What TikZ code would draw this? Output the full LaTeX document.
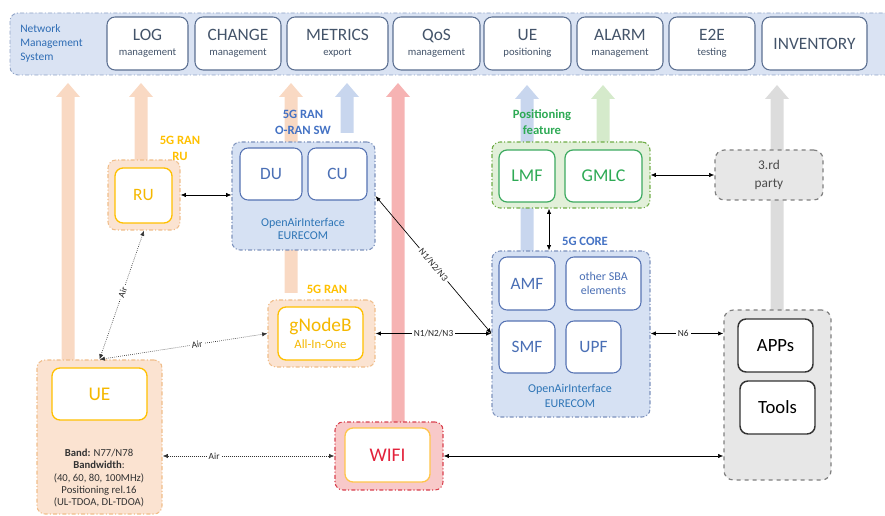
\documentclass[tikz,border=0pt]{standalone}
\usepackage{fontspec}
\setmainfont{Carlito}
\usetikzlibrary{arrows.meta,calc}
\definecolor{barfill}{HTML}{DAE3F3}
\definecolor{barline}{HTML}{8EA2C6}
\definecolor{slate}{HTML}{44546A}
\definecolor{topline}{HTML}{5B6F91}
\definecolor{nmsblue}{HTML}{2F6DB5}
\definecolor{ranfill}{HTML}{FBE3D1}
\definecolor{ranline}{HTML}{F0BD8A}
\definecolor{gold}{HTML}{FFC000}
\definecolor{goldtext}{HTML}{F5B800}
\definecolor{bluefill}{HTML}{D6E1F3}
\definecolor{blueline}{HTML}{7D92BC}
\definecolor{innerblue}{HTML}{5673B3}
\definecolor{textblue}{HTML}{4A6FB5}
\definecolor{oaiblue}{HTML}{2E75B6}
\definecolor{labblue}{HTML}{4472C4}
\definecolor{greenfill}{HTML}{E2F0D9}
\definecolor{greenline}{HTML}{70AD47}
\definecolor{greentext}{HTML}{2EAA55}
\definecolor{greenbox}{HTML}{3DAA60}
\definecolor{wififill}{HTML}{F8C9C9}
\definecolor{wifiline}{HTML}{D9414F}
\definecolor{wifitext}{HTML}{E3223B}
\definecolor{wifiinner}{HTML}{FFC54B}
\definecolor{greyfill}{HTML}{E7E7E7}
\definecolor{greyline}{HTML}{7F7F7F}
\definecolor{peach}{HTML}{F9D9C3}
\definecolor{arrblue}{HTML}{C8D6EE}
\definecolor{arrred}{HTML}{F6B3B3}
\definecolor{arrgreen}{HTML}{D5EACB}
\definecolor{arrgrey}{HTML}{DCDCDC}
\newcommand\bigarr[4]{%
  \fill[#4] ({#1-6.5},#2) -- ({#1-6.5},{#3+14}) -- ({#1-12},{#3+14}) -- (#1,#3)
    -- ({#1+12},{#3+14}) -- ({#1+6.5},{#3+14}) -- ({#1+6.5},#2) -- cycle;}
\tikzset{
  every node/.style={inner sep=0pt},
  rect/.style n args={4}{at={($(#1,#2)!0.5!(#3,#4)$)},
    minimum width={(#3-#1)*0.75pt}, minimum height={(#4-#2)*0.75pt}},
  dd/.style={dash pattern=on 3pt off 1.6pt on 0.8pt off 1.6pt},
  outerbox/.style={rounded corners=6pt, line width=0.8pt, dd},
  topbox/.style={draw=topline, fill=white, rounded corners=6pt, line width=0.8pt,
    text=slate, align=center, font=\fontsize{8}{11.25}\selectfont},
  ranouter/.style={outerbox, fill=ranfill, draw=ranline},
  raninner/.style={draw=gold, fill=white, rounded corners=6pt, line width=1pt,
    text=goldtext, align=center},
  blueouter/.style={outerbox, fill=bluefill, draw=blueline},
  blueinner/.style={draw=innerblue, fill=white, rounded corners=6pt, line width=0.8pt,
    text=textblue, align=center, font=\fontsize{13}{14}\selectfont},
  greenouter/.style={outerbox, fill=greenfill, draw=greenline},
  greeninner/.style={draw=greenbox, fill=white, rounded corners=6pt, line width=0.9pt,
    text=greentext, font=\fontsize{13.5}{14}\selectfont},
  greyouter/.style={rounded corners=7pt, line width=0.9pt, dashed, fill=greyfill, draw=greyline},
  greyinner/.style={draw=black!80, fill=white, rounded corners=6pt, line width=1.1pt,
    text=black, font=\fontsize{14}{15}\selectfont},
  grplabel/.style={font=\bfseries\fontsize{9.5}{12}\selectfont, align=center},
  conn/.style={{Latex[length=4pt,width=3.2pt]}-{Latex[length=4pt,width=3.2pt]}, line width=0.5pt},
  airconn/.style={conn, densely dotted, draw=black!80},
  lbl/.style={fill=white, inner sep=1.5pt, font=\fontsize{7}{8}\selectfont, text=black!85}
}
\begin{document}
\begin{tikzpicture}[x=0.75pt,y=-0.75pt]
\useasboundingbox (0,0) rectangle (885,516);
\clip (0,0) rectangle (885,516);

% ---- management bar
\node[fill=barfill, draw=barline, line width=0.7pt, dd, rounded corners=6pt,
  rect={10}{13}{900}{75}] (nmsbar) {};
\node[anchor=west, align=left, font=\fontsize{8.6}{10.5}\selectfont, text=nmsblue]
  (nms) at (20,43) {Network\\Management\\System};
\node[topbox, rect={107}{17}{188}{70}] (log) {{\fontsize{13}{13}\selectfont LOG}\\management};
\node[topbox, rect={195}{17}{281}{70}] (change) {{\fontsize{13}{13}\selectfont CHANGE}\\management};
\node[topbox, rect={287}{17}{388}{70}] (metrics) {{\fontsize{13}{13}\selectfont METRICS}\\export};
\node[topbox, rect={393}{17}{480}{70}] (qos) {{\fontsize{13}{13}\selectfont QoS}\\management};
\node[topbox, rect={484}{17}{571}{70}] (uepos) {{\fontsize{13}{13}\selectfont UE}\\positioning};
\node[topbox, rect={577}{17}{663}{70}] (alarm) {{\fontsize{13}{13}\selectfont ALARM}\\management};
\node[topbox, rect={669}{17}{755}{70}] (e2e) {{\fontsize{13}{13}\selectfont E2E}\\testing};
\node[topbox, rect={762}{17}{867}{70}, font=\fontsize{13}{13}\selectfont] (inv) {INVENTORY};

% ---- big upward arrows (behind the boxes)
\bigarr{68}{362}{83}{peach}
\bigarr{141}{162}{83}{peach}
\bigarr{291}{293}{83}{peach}
\bigarr{347}{133}{83}{arrblue}
\bigarr{398}{424}{83}{arrred}
\bigarr{527}{252}{85}{arrblue}
\bigarr{603}{144}{85}{arrgreen}
\bigarr{777}{312}{85}{arrgrey}

% ---- RU
\node[ranouter, rect={108}{160}{180}{230}] (ru) {};
\node[raninner, rect={115}{168}{172}{223}, font=\fontsize{13}{14}\selectfont] (rui) {RU};
\node[grplabel, text=gold] (rulab) at (180,148) {5G RAN\\RU};

% ---- O-RAN SW
\node[blueouter, rect={232}{142}{375}{250}] (oran) {};
\node[blueinner, rect={240}{148}{302}{200}] (du) {DU};
\node[blueinner, rect={308}{148}{367}{200}] (cu) {CU};
\node[align=center, font=\fontsize{9}{9.75}\selectfont, text=oaiblue] (oai1) at (303,229) {OpenAirInterface\\EURECOM};
\node[grplabel, text=labblue] (oranlab) at (303,122) {5G RAN\\O-RAN SW};

% ---- gNodeB
\node[ranouter, rect={268}{300}{375}{367}] (gnb) {};
\node[raninner, rect={278}{307}{363}{360}, font=\fontsize{9.5}{13}\selectfont] (gnbi)
  {{\fontsize{14.5}{14}\selectfont gNodeB}\\All-In-One};
\node[grplabel, text=gold] (gnblab) at (327,289) {5G RAN};

% ---- UE
\node[ranouter, rect={37}{360}{162}{514}] (ue) {};
\node[raninner, rect={52}{368}{147}{420}, font=\fontsize{14.5}{15}\selectfont] (uei) {UE};
\node[align=center, font=\fontsize{8}{9.3}\selectfont, text=black!80] (uetxt) at (99,478)
  {\textbf{Band:} N77/N78\\\textbf{Bandwidth}:\\(40, 60, 80, 100MHz)\\Positioning rel.16\\(UL-TDOA, DL-TDOA)};

% ---- WIFI
\node[outerbox, fill=wififill, draw=wifiline, rect={335}{422}{443}{490}] (wifi) {};
\node[draw=wifiinner, fill=white, rounded corners=6pt, line width=1pt, text=wifitext,
  font=\fontsize{14.5}{15}\selectfont, rect={345}{428}{430}{482}] (wifii) {WIFI};

% ---- Positioning
\node[greenouter, rect={492}{142}{650}{208}] (pos) {};
\node[greeninner, rect={499}{150}{555}{202}] (lmf) {LMF};
\node[greeninner, rect={565}{150}{642}{202}] (gmlc) {GMLC};
\node[grplabel, text=greentext] (poslab) at (542,122) {Positioning\\feature};

% ---- 3rd party
\node[greyouter, rect={715}{150}{823}{200}, align=center, text=black!70,
  font=\fontsize{10}{14}\selectfont] (third) {3.rd\\party};

% ---- 5G core
\node[blueouter, rect={492}{251}{650}{417}] (core) {};
\node[blueinner, rect={499}{257}{555}{310}] (amf) {AMF};
\node[blueinner, rect={566}{257}{641}{310}, font=\fontsize{9}{10.5}\selectfont] (sba) {other SBA\\elements};
\node[blueinner, rect={499}{321}{555}{373}] (smf) {SMF};
\node[blueinner, rect={566}{321}{621}{373}] (upf) {UPF};
\node[align=center, font=\fontsize{9}{11}\selectfont, text=oaiblue] (oai2) at (570,396) {OpenAirInterface\\EURECOM};
\node[grplabel, text=labblue] (corelab) at (585,241) {5G CORE};

% ---- APPs / Tools
\node[greyouter, rect={724}{310}{831}{480}] (apps) {};
\node[greyinner, rect={738}{319}{813}{372}] (appsi) {APPs};
\node[greyinner, rect={740}{381}{815}{434}] (tools) {Tools};

% ---- connectors
\coordinate (lmfx) at (549,0);
\draw[conn] (ru.east) -- (ru.east -| oran.west);
\draw[conn] (pos.east) -- (pos.east -| third.west);
\draw[conn] (pos.south -| lmfx) -- (core.north -| lmfx);
\draw[conn] (gnb.east) -- (gnb.east -| core.west) node[lbl, pos=0.5] {N1/N2/N3};
\draw[conn] (oran.east) -- (gnb.east -| core.west) node[lbl, pos=0.5, sloped] {N1/N2/N3};
\draw[conn] (gnb.east -| core.east) -- (gnb.east -| apps.west) node[lbl, pos=0.45] {N6};
\draw[conn] (wifi.east) -- (wifi.east -| apps.west);
\draw[airconn] (wifi.west -| ue.east) -- (wifi.west) node[lbl, pos=0.3] {Air};
\draw[airconn] (ue.north) -- (gnb.west) node[lbl, pos=0.58, sloped] {Air};
\draw[airconn] (ue.north) -- (ru.south) node[lbl, pos=0.52, sloped] {Air};
\end{tikzpicture}
\end{document}
